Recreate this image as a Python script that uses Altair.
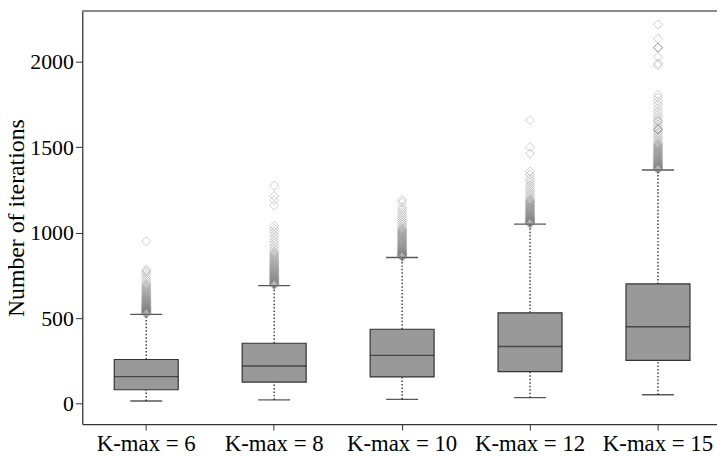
import altair as alt
import pandas as pd

groups = ["K-max = 6", "K-max = 8", "K-max = 10", "K-max = 12", "K-max = 15"]
lower = [15, 22, 25, 35, 52]
q1 = [81, 126, 156, 187, 253]
median = [158, 220, 282, 334, 450]
q3 = [258, 353, 435, 531, 700]
upper = [522, 690, 855, 1050, 1367]
y_ticks = [0, 500, 1000, 1500, 2000]

out_k6 = [526, 528, 530, 532, 534, 536, 538, 540, 542, 544, 546, 548, 551, 553, 556, 558,
          561, 563, 566, 568, 571, 574, 577, 580, 583, 586, 589, 592, 595, 598, 602,
          605, 609, 612, 616, 620, 624, 628, 632, 636, 641, 645, 650, 655, 660, 665, 670,
          676, 682, 688, 694, 700, 712, 725, 738, 752, 766, 775, 783, 949]
out_k8 = [694, 696, 698, 700, 702, 705, 707, 710, 712, 715, 718, 720, 723, 726, 729, 732,
          735, 738, 741, 744, 747, 750, 754, 757, 761, 764, 768, 771, 775, 778, 782,
          786, 790, 794, 798, 802, 806, 810, 815, 820, 825, 830, 835, 840, 846, 852, 858,
          864, 870, 876, 883, 890, 905, 920, 936, 952, 970, 988, 1005, 1022, 1040,
          1160, 1190, 1215, 1275]
out_k10 = [858, 860, 862, 864, 866, 868, 870, 872, 875, 877, 880, 882, 885, 887, 890,
           892, 895, 898, 901, 904, 907, 910, 914, 917, 921, 924, 928, 931, 935, 938,
           942, 946, 950, 954, 958, 962, 966, 970, 975, 979, 984, 988, 993, 997, 1002,
           1006, 1011, 1016, 1021, 1026, 1036, 1047, 1058, 1070, 1082, 1095, 1108, 1120,
           1135, 1150, 1178, 1192]
out_k12 = [1053, 1055, 1057, 1059, 1061, 1063, 1065, 1067, 1070, 1072, 1075, 1077, 1080,
           1082, 1085, 1087, 1090, 1093, 1096, 1099, 1102, 1105, 1109, 1112, 1116, 1119,
           1123, 1126, 1130, 1133, 1137, 1141, 1145, 1149, 1153, 1157, 1162, 1166, 1171,
           1175, 1180, 1184, 1189, 1194, 1204, 1215, 1226, 1238, 1250, 1263, 1276, 1290,
           1305, 1320, 1340, 1358, 1463, 1501, 1658]
out_k15 = [1370, 1372, 1375, 1377, 1380, 1382, 1385, 1387, 1390, 1392, 1395, 1398, 1401,
           1404, 1407, 1410, 1413, 1416, 1420, 1423, 1427, 1430, 1434, 1437, 1441, 1444,
           1448, 1452, 1456, 1460, 1464, 1468, 1472, 1476, 1481, 1485, 1490, 1494, 1499,
           1503, 1508, 1512, 1517, 1522, 1532, 1542, 1553, 1564, 1575, 1586, 1598, 1604,
           1604, 1610, 1622, 1635, 1652, 1652, 1665, 1680, 1695, 1712, 1730, 1750, 1770,
           1790, 1807, 1980, 1990, 2029, 2083, 2083, 2083, 2135, 2218]

outlier_lists = [out_k6, out_k8, out_k10, out_k12, out_k15]

box_df = pd.DataFrame({"group": groups, "lower": lower, "q1": q1, "median": median,
                       "q3": q3, "upper": upper})
out_df = pd.DataFrame([{"group": g, "value": v} for g, vals in zip(groups, outlier_lists) for v in vals])

FONT = "Liberation Serif"
TITLE = "Number of iterations"

x_axis = alt.Axis(title=None, labelAngle=0, labelFont=FONT, labelFontSize=23, labelColor="black",
                  tickSize=6, tickColor="#333", domainColor="#333", domainWidth=1.3,
                  labelPadding=3, grid=False)
y_axis = alt.Axis(values=y_ticks, format="d", title=TITLE,
                  labelFont=FONT, labelFontSize=22, labelColor="black",
                  titleFont=FONT, titleFontSize=24, titleFontWeight="normal", titleColor="black",
                  tickSize=7, tickColor="#333", domainColor="#333", domainWidth=1.3,
                  labelPadding=2, titlePadding=1, grid=False)

x_enc = alt.X("group:N", sort=groups, axis=x_axis,
              scale=alt.Scale(range=[0, 646], paddingInner=0, paddingOuter=0))
y_scale = alt.Scale(domain=[-120, 2296], nice=False, zero=False)


def yq(field):
    return alt.Y(field, type="quantitative", scale=y_scale, axis=y_axis)


base = alt.Chart(box_df)

whisk_lo = base.mark_rule(color="#222", strokeWidth=1.3, strokeDash=[1.5, 2]).encode(
    x=x_enc, y=yq("lower"), y2="q1")
whisk_hi = base.mark_rule(color="#222", strokeWidth=1.3, strokeDash=[1.5, 2]).encode(
    x=x_enc, y=yq("q3"), y2="upper")
box = base.mark_bar(width={"band": 0.5}, fill="#999999", stroke="#333", strokeWidth=1.2).encode(
    x=x_enc, y=yq("q1"), y2="q3")
med = base.mark_tick(color="#222", thickness=1.4, size=64.6).encode(x=x_enc, y=yq("median"))
cap_lo = base.mark_tick(color="#111", thickness=1.4, size=32.3).encode(x=x_enc, y=yq("lower"))
cap_hi = base.mark_tick(color="#111", thickness=1.4, size=32.3).encode(x=x_enc, y=yq("upper"))
pts = alt.Chart(out_df).mark_point(shape="diamond", filled=False, size=85, stroke="#6e6e6e",
                                   strokeOpacity=0.45, strokeWidth=1).encode(
    x=x_enc, y=yq("value"))
top_line = alt.Chart(box_df).mark_rule(color="#888", strokeWidth=1.5).encode(
    y=alt.datum(2296, type="quantitative", scale=y_scale, axis=y_axis))

chart = alt.layer(top_line, whisk_lo, whisk_hi, box, med, cap_lo, cap_hi, pts).properties(
    width=641, height=417,
    padding={"left": 75, "top": 1, "right": 0, "bottom": 30},
    autosize="none",
).configure_view(stroke="transparent")

chart.save("out.html", embed_options={"renderer": "svg", "actions": False})
